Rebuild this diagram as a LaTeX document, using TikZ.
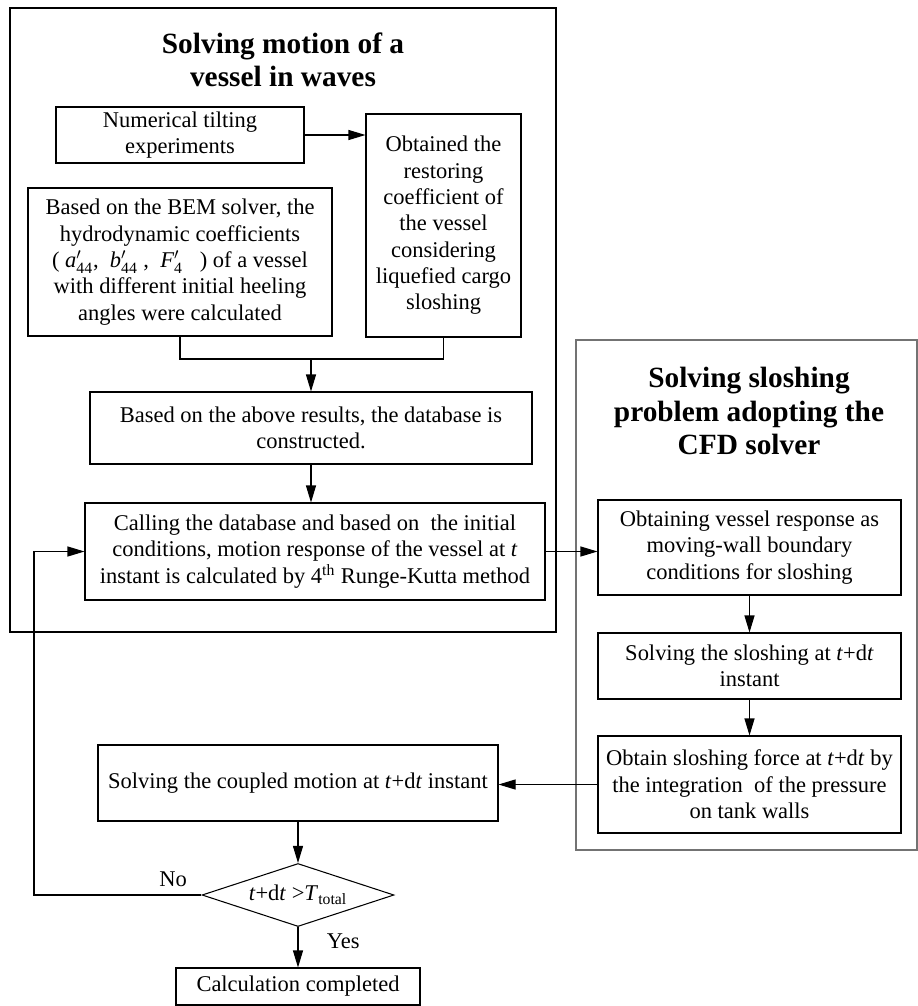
\documentclass[tikz,border=0pt]{standalone}
\usepackage{amsmath}
\usepackage{fontspec}
\setmainfont{Liberation Serif}
\usetikzlibrary{arrows.meta,positioning,shapes.geometric}

\begin{document}
\begin{tikzpicture}[line width=0.6pt,
    box/.style={draw, align=center, inner sep=2pt, font=\fontsize{12.8}{15}\selectfont},
    frame/.style={draw, inner sep=0pt},
    head/.style={align=center, font=\fontsize{16.7}{19}\selectfont\bfseries},
    lbl/.style={font=\fontsize{12.8}{15}\selectfont},
    arr/.style={-{Triangle[length=3.4mm,width=2mm]}}]
  \useasboundingbox (0,0) rectangle (18.36,-20.12);
  \node[frame, minimum width=10.92cm, minimum height=12.48cm] (frameL) at (5.66,-6.4) {};
  \node[frame, draw=black!55, minimum width=6.82cm, minimum height=10.2cm] (frameR) at (14.93,-11.9) {};
  \node[head] (headL) at (5.66,-1.2) {Solving motion of a\\vessel in waves};
  \node[head] (headR) at (14.98,-8.22) {Solving sloshing\\problem adopting the\\CFD solver};
  \node[box, minimum width=4.96cm, minimum height=1.12cm] (num) at (3.6,-2.7)
    {Numerical tilting\\experiments};
  \node[box, minimum width=3.1cm, minimum height=4.46cm] (obt) at (8.87,-4.51)
    {Obtained the\\restoring\\coefficient of\\the vessel\\considering\\liquefied cargo\\sloshing};
  \node[box, minimum width=6.08cm, minimum height=2.96cm] (bem) at (3.6,-5.24)
    {Based on the BEM solver, the\\hydrodynamic coefficients\\
     ( \textit{a}$^{\prime}_{\text{44}}$,~~\textit{b}$^{\prime}_{\text{44}}$ ,~~\textit{F}$^{\prime}_{\text{4}}$~~ ) of a vessel\\
     with different initial heeling\\angles were calculated};
  \node[box, minimum width=8.84cm, minimum height=1.44cm] (db) at (6.22,-8.56)
    {Based on the above results, the database is\\constructed.};
  \node[box, minimum width=9.2cm, minimum height=1.94cm] (call) at (6.3,-11.03)
    {Calling the database and based on~ the initial\\
     conditions, motion response of the vessel at \textit{t}\\
     instant is calculated by 4\textsuperscript{th} Runge-Kutta method};
  \node[box, minimum width=6.06cm, minimum height=1.9cm] (obn) at (14.99,-10.95)
    {Obtaining vessel response as\\moving-wall boundary\\conditions for sloshing};
  \node[box, minimum width=6.06cm, minimum height=1.32cm] (sol) at (14.99,-13.32)
    {Solving the sloshing at \textit{t}+d\textit{t}\\instant};
  \node[box, minimum width=6.06cm, minimum height=1.94cm] (force) at (14.99,-15.69)
    {Obtain sloshing force at \textit{t}+d\textit{t} by\\the integration~ of the pressure\\on tank walls};
  \node[box, minimum width=8cm, minimum height=1.52cm] (coup) at (5.96,-15.66)
    {Solving the coupled motion at \textit{t}+d\textit{t} instant};
  \node[box, diamond, aspect=3, inner sep=0pt, minimum width=3.84cm, minimum height=1.26cm] (dec) at (5.96,-17.9)
    {\textit{t}+d\textit{t} >\textit{T}\textsubscript{total}};
  \node[box, minimum width=4.88cm, minimum height=0.74cm] (calc) at (5.96,-19.73)
    {Calculation completed};
  \coordinate (mrg) at (6.22,-7.18);
  \coordinate (loop) at (0.68,-17.9);
  \draw[arr] (num.east) -- (num.east -| obt.west);
  \draw (bem.south) |- (mrg) -| (obt.south);
  \draw[arr] (mrg) -- (db);
  \draw[arr] (db.south) -- (db.south |- call.north);
  \draw[arr] (call.east) -- (call.east -| obn.west);
  \draw[arr] (obn) -- (sol);
  \draw[arr] (sol) -- (force);
  \draw[arr] (force.west) -- (force.west -| coup.east);
  \draw[arr] (coup) -- (dec);
  \draw[arr] (dec) -- node[lbl, pos=0.35, right=0.45cm] {Yes} (calc);
  \draw[arr] (dec.west) -- node[lbl, pos=0.17, above=0.03cm] {No} (loop) |- (call.west);
\end{tikzpicture}
\end{document}
